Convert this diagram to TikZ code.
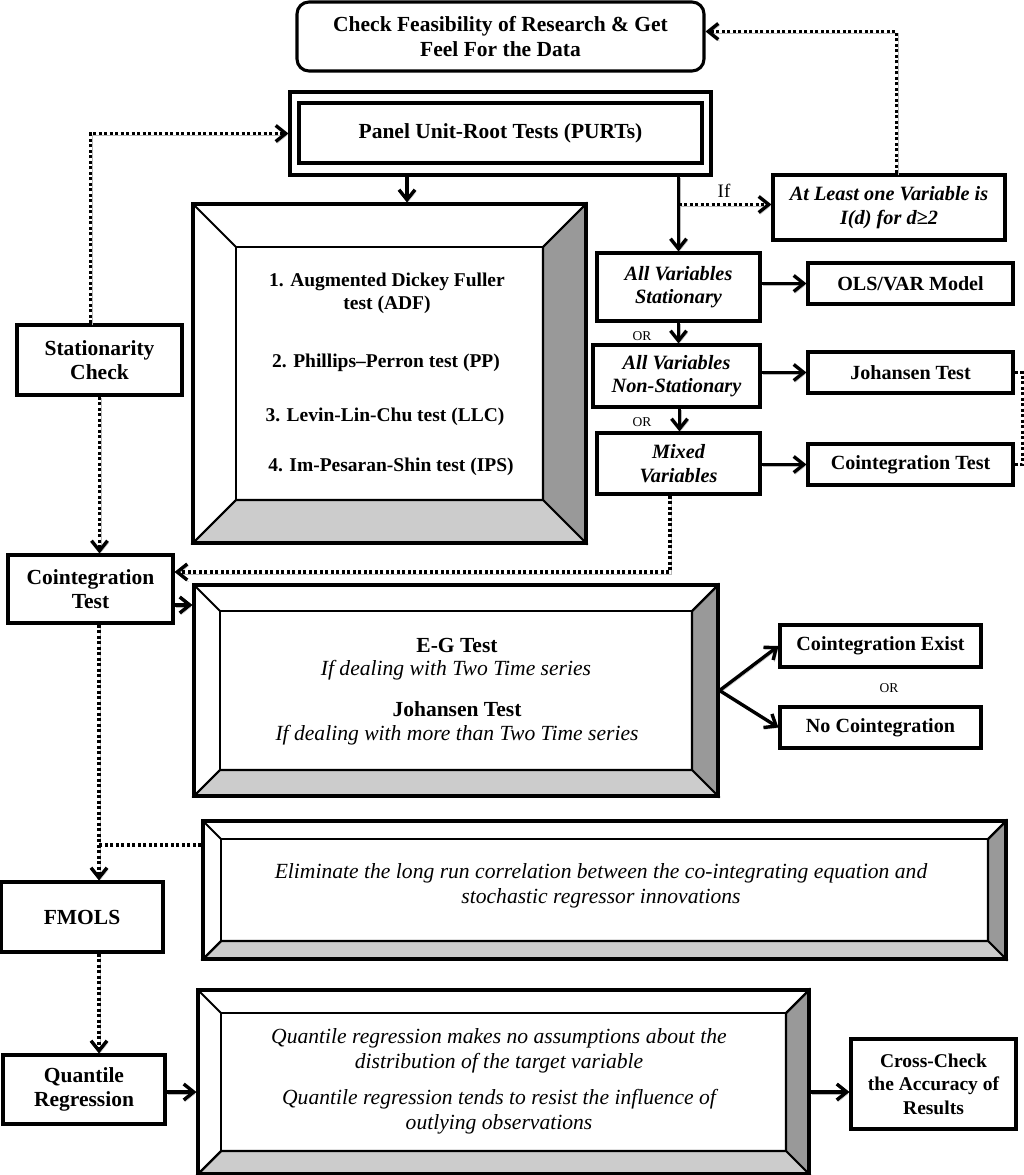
\documentclass[tikz,border=0pt]{standalone}
\usepackage{fontspec}
\setmainfont{Liberation Serif}
\usetikzlibrary{arrows.meta,fit,calc}
\definecolor{bevR}{gray}{0.6}
\definecolor{bevB}{gray}{0.8}
\newcommand\bfl{\fontsize{21.5}{24.5}\selectfont\bfseries}
\newcommand\bfs{\fontsize{19.5}{23.5}\selectfont\bfseries}
\newcommand\bfm{\fontsize{20.1}{23.5}\selectfont\bfseries}
\newcommand\its{\fontsize{21.6}{25}\selectfont\itshape}
\newcommand\bis{\fontsize{20.3}{23.5}\selectfont\bfseries\itshape}
\newcommand\bevel[6]{%
  \filldraw[fill=bevR, line width=2.1pt] (#4,#3) -- (#4,#5) -- ({#4-#6},{#5-#6}) -- ({#4-#6},{#3+#6}) -- cycle;
  \filldraw[fill=bevB, line width=2.1pt] (#2,#5) -- (#4,#5) -- ({#4-#6},{#5-#6}) -- ({#2+#6},{#5-#6}) -- cycle;
  \draw[line width=2.1pt] (#2,#3) -- ({#2+#6},{#3+#6}) (#4,#3) -- ({#4-#6},{#3+#6}) (#2,#5) -- ({#2+#6},{#5-#6});
  \draw[line width=2.1pt] ({#2+#6},{#3+#6}) rectangle ({#4-#6},{#5-#6});
  \node[draw, line width=3.1pt, inner sep=0pt, fit={(#2,#3) (#4,#5)}] (#1) {};
}
\begin{document}
\begin{tikzpicture}[x=1pt,y=-1pt,
  box/.style={draw, line width=3.1pt, align=center, inner sep=0pt, font=\bfl},
  mbox/.style={box, font=\bfm},
  ibox/.style={box, font=\bis},
  arrshadow/.style={preaction={draw=gray!55, transform canvas={shift={(1.4pt,-1.8pt)}}}},
  arr/.style={line width=3.4pt, -{Straight Barb[length=10pt,width=16pt]}, arrshadow},
  dotl/.style={line width=3.4pt, dash pattern=on 3.4pt off 2.1pt},
  darr/.style={dotl, -{Straight Barb[length=10pt,width=16pt]}, arrshadow},
]
\fill[white] (0,0) rectangle (1024,1175);
\useasboundingbox (0,0) rectangle (1024,1175);

\coordinate (xl) at (99,0);
\coordinate (xp) at (407,0);

% top row
\node[box, rounded corners=12pt, minimum width=407pt, minimum height=69pt] (top) at (500.5,36.5) {Check Feasibility of Research \& Get\\Feel For the Data};
\node[box, minimum width=421pt, minimum height=83pt] (purts) at (500.5,133.5) {};
\node[box, minimum width=403pt, minimum height=60pt] (purtsin) at (500.5,133) {Panel Unit-Root Tests (PURTs)};

% bevel box 1
\bevel{b1}{193}{204}{586}{543}{43}
\node[font=\bfs, align=center] (adf) at (387,293.5) {1. Augmented Dickey Fuller\\test (ADF)};
\node[font=\bfs] (pp) at (386,363) {2. Phillips–Perron test (PP)};
\node[font=\bfs] (llc) at (385,417) {3. Levin-Lin-Chu test (LLC)};
\node[font=\bfs] (ips) at (391,467) {4. Im-Pesaran-Shin test (IPS)};

% left column
\node[box, minimum width=165pt, minimum height=70pt] (stat) at (99.5,360) {Stationarity\\Check};
\node[box, minimum width=165pt, minimum height=68pt] (coint) at (90.5,589) {Cointegration\\Test};
\node[box, minimum width=162pt, minimum height=70pt] (fmols) at (82,917) {FMOLS};
\node[box, minimum width=162pt, minimum height=69pt] (quant) at (84,1089.5) {Quantile\\Regression};

% right column
\node[ibox, minimum width=232pt, minimum height=65pt] (atleast) at (889,207.5) {At Least one Variable is\\I(d) for d≥2};
\node[ibox, minimum width=163pt, minimum height=68pt] (avs) at (678.5,287) {All Variables\\Stationary};
\node[mbox, minimum width=205pt, minimum height=41pt] (ols) at (910.5,283.5) {OLS/VAR Model};
\node[ibox, minimum width=167pt, minimum height=62pt] (avn) at (676.5,376) {All Variables\\Non-Stationary};
\node[mbox, minimum width=205pt, minimum height=41pt] (joh) at (910.5,372.5) {Johansen Test};
\node[ibox, minimum width=163pt, minimum height=61pt] (mix) at (678.5,463.5) {Mixed\\Variables};
\node[mbox, minimum width=205pt, minimum height=41pt] (cointr) at (910.5,464.5) {Cointegration Test};

\node[font=\fontsize{19}{20}\selectfont] (iflab) at (724,191) {If};
\node[font=\fontsize{13.5}{15}\selectfont] (or1) at (642,336) {OR};
\node[font=\fontsize{13.5}{15}\selectfont] (or2) at (642,422) {OR};

% bevel box 2
\bevel{b2}{194}{585}{718}{796}{26}
\node[font=\bfl] (eg) at (457,645) {E-G Test};
\node[font=\its] (eg2) at (456,670) {If dealing with Two Time series};
\node[font=\bfl] (jt) at (457,709) {Johansen Test};
\node[font=\its] (jt2) at (457,735) {If dealing with more than Two Time series};

\node[mbox, minimum width=201pt, minimum height=42pt] (cexist) at (880.5,646) {Cointegration Exist};
\node[mbox, minimum width=201pt, minimum height=41pt] (nocoint) at (880.5,727.5) {No Cointegration};
\node[font=\fontsize{13.5}{15}\selectfont] (or3) at (889,688) {OR};

% bevel box 3
\bevel{b3}{203}{821}{1006}{959}{18}
\node[font=\its, align=center] (elim) at (601,885.5) {Eliminate the long run correlation between the co-integrating equation and\\stochastic regressor innovations};

% bevel box 4
\bevel{b4}{198}{990}{809}{1174}{23}
\node[font=\its, align=center] (q1) at (499,1050.5) {Quantile regression makes no assumptions about the\\distribution of the target variable};
\node[font=\its, align=center] (q2) at (499,1112) {Quantile regression tends to resist the influence of\\outlying observations};

\node[box, font=\bfs, minimum width=165pt, minimum height=90pt] (cross) at (933.5,1084) {Cross-Check\\the Accuracy of\\Results};

% helper coordinates for connector ends
\coordinate (te) at ([yshift=5pt]top.east);
\coordinate (ce) at ([yshift=-16pt]coint.east);
\coordinate (cin) at ([yshift=17pt]coint.east);
\coordinate (b3w) at ([yshift=45pt]b3.west);
\coordinate (qe) at ([yshift=-2.5pt]quant.east);

% connectors
\draw[darr] ([xshift=7.5pt]atleast.north) |- (te);
\draw[darr] ([xshift=-9pt]stat.north) |- (purts.west);
\draw[arr] (purts.south -| xp) -- (b1.north -| xp);
\draw[arr] (purts.south -| avs.north) -- (avs.north);
\draw[darr] ([yshift=3pt]atleast.west -| avs.north) -- ([yshift=3pt]atleast.west);
\draw[arr] (avs.east |- ols.west) -- (ols.west);
\draw[arr] (avs.south) -- (avs.south |- avn.north);
\draw[arr] (avn.east |- joh.west) -- (joh.west);
\draw[arr] ([xshift=3pt]avn.south) -- ([xshift=3pt]avn.south |- mix.north);
\draw[arr] (mix.east |- cointr.west) -- (cointr.west);
\draw[dotl] (joh.east) -- ++(8,0) |- (cointr.east);
\draw[darr] ([xshift=-8.5pt]mix.south) |- (cin);
\draw[darr] (stat.south) -- (stat.south |- coint.north);
\draw[arr] (ce) -- (b2.west |- ce);
\draw[arr] (b2.east) -- (cexist.west);
\draw[arr] (b2.east) -- (nocoint.west);
\draw[darr] (coint.south -| xl) -- (fmols.north -| xl);
\draw[dotl] (b3w) -- (b3w -| xl);
\draw[darr] (fmols.south -| xl) -- (quant.north -| xl);
\draw[arr] (qe) -- (qe -| b4.west);
\draw[arr] (qe -| b4.east) -- (qe -| cross.west);
\end{tikzpicture}
\end{document}
